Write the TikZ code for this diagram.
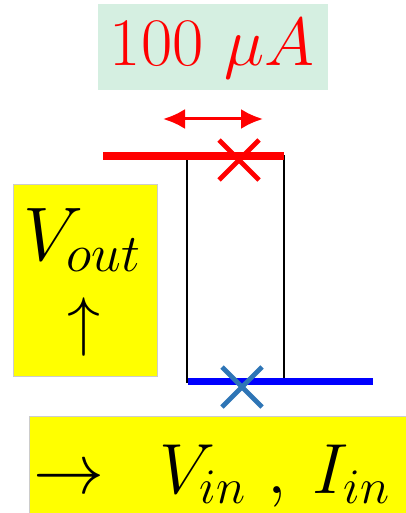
\documentclass[tikz,border=0pt]{standalone}
\usepackage{fix-cm}
\usepackage{xcolor}
\usepackage{tikz}
\usetikzlibrary{arrows.meta}
\definecolor{mintbg}{HTML}{D5EFE1}
\definecolor{crossblue}{HTML}{2E75B6}
\definecolor{levelblue}{HTML}{0000FF}
\definecolor{levelred}{HTML}{FF0000}
\definecolor{labelyellow}{HTML}{FFFF00}
\tikzset{
  labelbox/.style={fill=labelyellow,draw=black!20,line width=0.8pt,inner sep=0pt},
  level/.style={line width=7pt},
  crossmark/.style={line width=4.8pt},
  bigmath/.style={inner sep=0pt,font=\fontsize{#1}{#1}\selectfont}
}
\newcommand{\xcross}[2]{%
  \draw[crossmark,#2] (#1) ++(-20,-20) -- ++(40,40);
  \draw[crossmark,#2] (#1) ++(-20,20) -- ++(40,-40);}

\begin{document}
\begin{tikzpicture}[x=1pt,y=-1pt]
  \useasboundingbox (0,0) rectangle (406,513);
  \node[fill=mintbg,inner sep=0pt,minimum width=230pt,minimum height=86pt]
    (ampbox) at (213,47) {};
  \node[bigmath=68,text=levelred] (amp) at (212,49) {$100\ \mu A$};
  \coordinate (shiftL) at (163,119);
  \coordinate (shiftR) at (263,119);
  \draw[levelred,line width=3pt,
    {Latex[length=22pt,width=20pt]}-{Latex[length=22pt,width=20pt]}]
    (shiftL) -- (shiftR);
  \coordinate (cellTL) at (187,156);
  \coordinate (cellBR) at (284,382);
  \draw[line width=1.8pt] (cellTL) rectangle (cellBR);
  \coordinate (redL) at (103,156);
  \coordinate (redR) at (284,156);
  \draw[level,levelred] (redL) -- (redR);
  \coordinate (blueL) at (188,381);
  \coordinate (blueR) at (373,381);
  \draw[level,levelblue] (blueL) -- (blueR);
  \coordinate (redX) at (239,160);
  \coordinate (blueX) at (242,387);
  \xcross{redX}{levelred}
  \xcross{blueX}{crossblue}
  \node[labelbox,minimum width=144pt,minimum height=192pt] (outbox) at (85,280) {};
  \node[bigmath=76] (vout) at (82,240) {$V_{out}$};
  \node[bigmath=66] (uparr) at (84,327) {$\uparrow$};
  \fill[labelyellow] (29,416) rectangle (406,513);
  \draw[black!20,line width=0.8pt] (29,513) -- (29,416) -- (406,416);
  \node[bigmath=71,anchor=base west] (inlabel) at (33,493)
    {$\rightarrow\hspace{0.5em}V_{in}\hspace{0.3em},\hspace{0.2em}I_{in}$};
\end{tikzpicture}
\end{document}
